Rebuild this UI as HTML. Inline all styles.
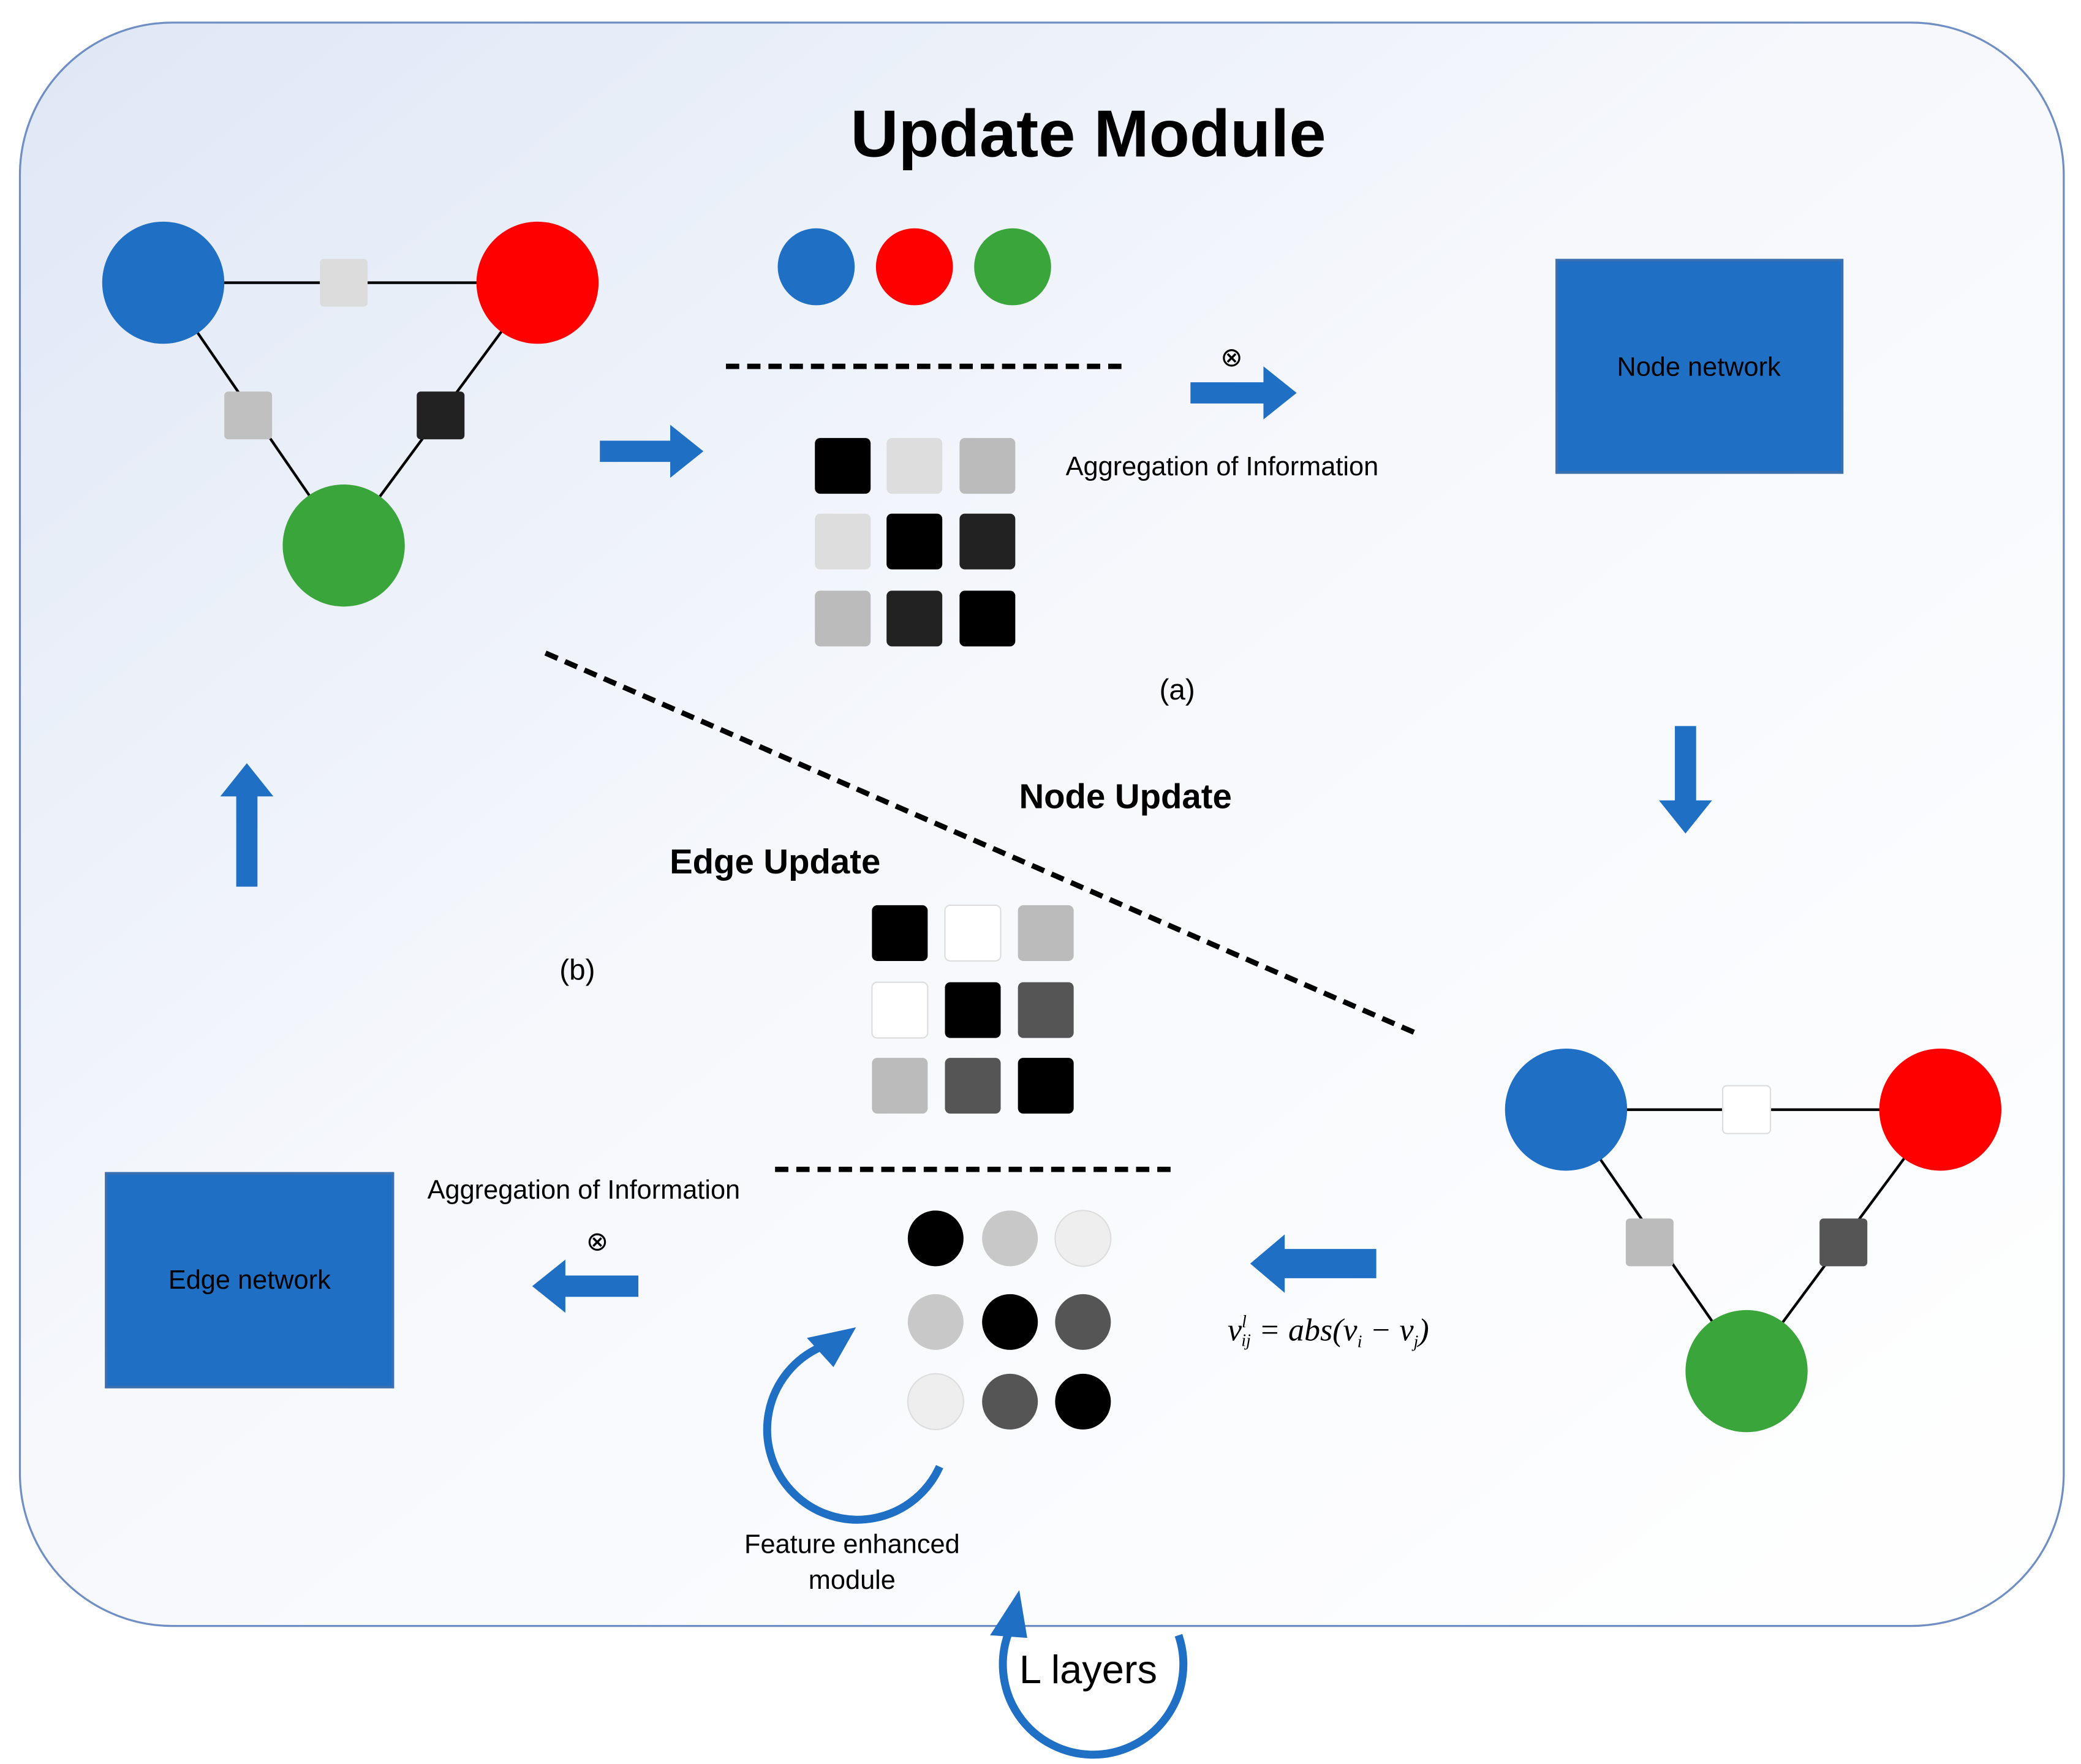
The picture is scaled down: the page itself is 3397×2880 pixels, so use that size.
<!DOCTYPE html>
<html><head><meta charset="utf-8"><style>
html,body{margin:0;padding:0;background:#fff;}
svg{display:block;}
text{font-family:"Liberation Sans",sans-serif;}
</style></head><body>
<svg width="3397" height="2880" viewBox="0 0 1568 1329" preserveAspectRatio="none" xmlns="http://www.w3.org/2000/svg">
<defs>
<linearGradient id="bg" x1="0" y1="0" x2="1" y2="1">
<stop offset="0" stop-color="#dfe7f6"/>
<stop offset="0.45" stop-color="#f6f8fc"/>
<stop offset="1" stop-color="#ffffff"/>
</linearGradient>
</defs>
<rect x="0" y="0" width="1568" height="1329" fill="#fff"/>
<rect x="15" y="17" width="1540" height="1208" rx="115" ry="115" fill="url(#bg)" stroke="#6f8fc4" stroke-width="1.5"/>
<text x="820" y="118" font-size="50" font-weight="bold" text-anchor="middle" fill="#000">Update Module</text>

<g stroke="#000" stroke-width="2">
<line x1="123" y1="213" x2="405" y2="213"/>
<line x1="123" y1="213" x2="259" y2="411"/>
<line x1="405" y1="213" x2="259" y2="411"/>
</g>
<circle cx="123" cy="213" r="46" fill="#1f6fc5"/>
<circle cx="405" cy="213" r="46" fill="#ff0000"/>
<circle cx="259" cy="411" r="46" fill="#3aa53a"/>
<rect x="241" y="195" width="36" height="36" rx="3" fill="#dcdcdc"/>
<rect x="169" y="295" width="36" height="36" rx="3" fill="#c0c0c0"/>
<rect x="314" y="295" width="36" height="36" rx="3" fill="#222"/>

<circle cx="615" cy="201" r="29" fill="#1f6fc5"/>
<circle cx="689" cy="201" r="29" fill="#ff0000"/>
<circle cx="763" cy="201" r="29" fill="#3aa53a"/>
<line x1="547" y1="276" x2="850" y2="276" stroke="#000" stroke-width="4" stroke-dasharray="10 6"/>

<g fill="#1f6fc5">
<polygon points="452,332 505,332 505,320 530,340 505,360 505,348 452,348"/>
<polygon points="897,288 952,288 952,276 977,296 952,316 952,304 897,304"/>
<polygon points="1037,941 968,941 968,930 942,952 968,974 968,963 1037,963"/>
<polygon points="481,961 426,961 426,949 401,969 426,989 426,977 481,977"/>
<polygon points="1262,547 1278,547 1278,603 1290,603 1270,628 1250,603 1262,603"/>
<polygon points="178,668 194,668 194,600 206,600 186,575 166,600 178,600"/>
</g>
<text x="928" y="276" font-size="20" text-anchor="middle">⊗</text>
<text x="450" y="942" font-size="20" text-anchor="middle">⊗</text>

<rect x="614" y="330" width="42" height="42" rx="4" fill="#000"/>
<rect x="668" y="330" width="42" height="42" rx="4" fill="#ddd"/>
<rect x="723" y="330" width="42" height="42" rx="4" fill="#bbb"/>
<rect x="614" y="387" width="42" height="42" rx="4" fill="#ddd"/>
<rect x="668" y="387" width="42" height="42" rx="4" fill="#000"/>
<rect x="723" y="387" width="42" height="42" rx="4" fill="#222"/>
<rect x="614" y="445" width="42" height="42" rx="4" fill="#bbb"/>
<rect x="668" y="445" width="42" height="42" rx="4" fill="#222"/>
<rect x="723" y="445" width="42" height="42" rx="4" fill="#000"/>

<text x="803" y="358" font-size="20">Aggregation of Information</text>
<rect x="1173" y="196" width="215" height="160" fill="#1f6fc5" stroke="#3a6fb0" stroke-width="2"/>
<text x="1280" y="283" font-size="20" text-anchor="middle">Node network</text>
<text x="887" y="527" font-size="22" text-anchor="middle">(a)</text>

<line x1="411" y1="492" x2="1066" y2="778" stroke="#000" stroke-width="4" stroke-dasharray="10 6"/>
<text x="848" y="609" font-size="26" font-weight="bold" text-anchor="middle">Node Update</text>
<text x="584" y="658" font-size="26" font-weight="bold" text-anchor="middle">Edge Update</text>
<text x="435" y="738" font-size="22" text-anchor="middle">(b)</text>

<rect x="657" y="682" width="42" height="42" rx="4" fill="#000"/>
<rect x="712" y="682" width="42" height="42" rx="4" fill="#fff" stroke="#ddd"/>
<rect x="767" y="682" width="42" height="42" rx="4" fill="#bbb"/>
<rect x="657" y="740" width="42" height="42" rx="4" fill="#fff" stroke="#ddd"/>
<rect x="712" y="740" width="42" height="42" rx="4" fill="#000"/>
<rect x="767" y="740" width="42" height="42" rx="4" fill="#555"/>
<rect x="657" y="797" width="42" height="42" rx="4" fill="#bbb"/>
<rect x="712" y="797" width="42" height="42" rx="4" fill="#555"/>
<rect x="767" y="797" width="42" height="42" rx="4" fill="#000"/>

<line x1="584" y1="881" x2="888" y2="881" stroke="#000" stroke-width="4" stroke-dasharray="10 6"/>

<circle cx="705" cy="933" r="21" fill="#000"/>
<circle cx="761" cy="933" r="21" fill="#c8c8c8"/>
<circle cx="816" cy="933" r="21" fill="#eee" stroke="#ddd"/>
<circle cx="705" cy="996" r="21" fill="#c8c8c8"/>
<circle cx="761" cy="996" r="21" fill="#000"/>
<circle cx="816" cy="996" r="21" fill="#555"/>
<circle cx="705" cy="1056" r="21" fill="#eee" stroke="#ddd"/>
<circle cx="761" cy="1056" r="21" fill="#555"/>
<circle cx="816" cy="1056" r="21" fill="#000"/>

<text x="925" y="1010" font-size="24" style="font-family:'Liberation Serif',serif;font-style:italic">v<tspan font-size="13" dy="-10">l</tspan><tspan font-size="13" dy="14" dx="-4">ij</tspan><tspan dy="-4"> = abs(v</tspan><tspan font-size="13" dy="5">i</tspan><tspan dy="-5"> − v</tspan><tspan font-size="13" dy="5">j</tspan><tspan dy="-5">)</tspan></text>

<g stroke="#000" stroke-width="2">
<line x1="1180" y1="836" x2="1462" y2="836"/>
<line x1="1180" y1="836" x2="1316" y2="1033"/>
<line x1="1462" y1="836" x2="1316" y2="1033"/>
</g>
<circle cx="1180" cy="836" r="46" fill="#1f6fc5"/>
<circle cx="1462" cy="836" r="46" fill="#ff0000"/>
<circle cx="1316" cy="1033" r="46" fill="#3aa53a"/>
<rect x="1298" y="818" width="36" height="36" rx="3" fill="#fff" stroke="#ddd"/>
<rect x="1225" y="918" width="36" height="36" rx="3" fill="#bbb"/>
<rect x="1371" y="918" width="36" height="36" rx="3" fill="#555"/>

<rect x="80" y="884" width="216" height="161" fill="#1f6fc5" stroke="#3a6fb0" stroke-width="2"/>
<text x="188" y="971" font-size="20" text-anchor="middle">Edge network</text>
<text x="322" y="903" font-size="20">Aggregation of Information</text>

<path d="M 708 1105 A 68 68 0 1 1 618 1015" fill="none" stroke="#1f6fc5" stroke-width="6"/>
<polygon points="645,1000 608,1008 628,1030" fill="#1f6fc5"/>
<text x="642" y="1170" font-size="20" text-anchor="middle">Feature enhanced</text>
<text x="642" y="1197" font-size="20" text-anchor="middle">module</text>

<path d="M 888 1232 A 68 68 0 1 1 760 1230" fill="none" stroke="#1f6fc5" stroke-width="6"/>
<polygon points="768,1198 746,1232 774,1234" fill="#1f6fc5"/>
<text x="820" y="1268" font-size="30" text-anchor="middle">L layers</text>
</svg>
</body></html>
